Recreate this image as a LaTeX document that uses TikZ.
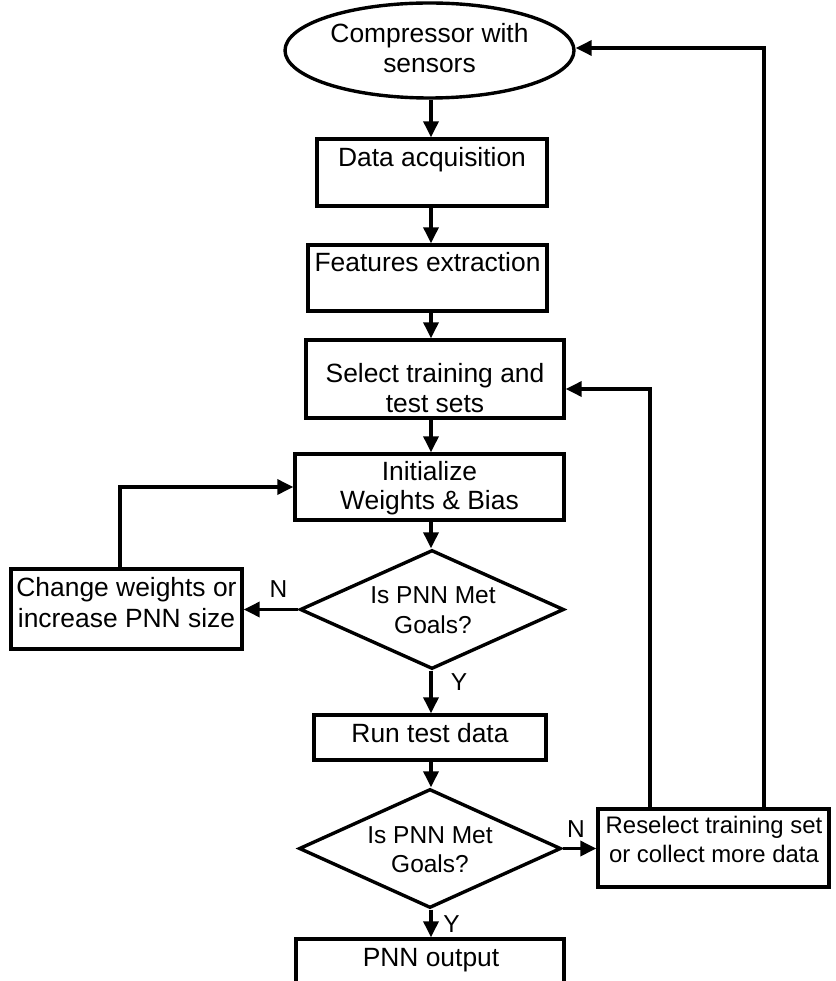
\documentclass[tikz,border=0pt]{standalone}
\usepackage{fontspec}
\setmainfont{Liberation Sans}
\usetikzlibrary{arrows.meta,shapes.geometric}
\begin{document}
\begin{tikzpicture}[x=1pt,y=-1pt,
  shp/.style={draw, line width=3.4pt, inner sep=0pt},
  txt/.style={inner sep=0pt, anchor=base, font=\fontsize{26.4pt}{30pt}\selectfont},
  txts/.style={txt, font=\fontsize{24.5pt}{30pt}\selectfont},
  txtr/.style={txt, font=\fontsize{23.9pt}{30pt}\selectfont},
  arr/.style={line width=3.4pt, -{Triangle[length=16pt,width=15pt]}},
]
\path[use as bounding box, clip] (0,0) rectangle (835,981);

% shapes
\node[shp, ellipse, minimum width=289pt, minimum height=95pt] (ell) at (429.5,50.5) {};
\node[shp, rectangle, minimum width=230pt, minimum height=67pt] (da) at (432,172.5) {};
\node[shp, rectangle, minimum width=239pt, minimum height=66pt] (fe) at (427.5,278) {};
\node[shp, rectangle, minimum width=258pt, minimum height=78pt] (sel) at (435,379) {};
\node[shp, rectangle, minimum width=269pt, minimum height=66pt] (in) at (429.5,487) {};
\node[shp, rectangle, minimum width=231pt, minimum height=80pt] (chg) at (126.5,609) {};
\node[shp, diamond, minimum width=264pt, minimum height=119pt] (d1) at (432,609.5) {};
\node[shp, rectangle, minimum width=232pt, minimum height=45pt] (run) at (430,737.5) {};
\node[shp, diamond, minimum width=262pt, minimum height=119pt] (d2) at (430,848.5) {};
\node[shp, rectangle, minimum width=231pt, minimum height=78pt] (rs) at (713.5,848) {};
\node[shp, rectangle, minimum width=268pt, minimum height=60pt] (pnn) at (430,969) {};

% texts
\node[txt] (tell1) at (429.5,43) {Compressor with};
\node[txt] (tell2) at (429.5,73) {sensors};
\node[txt] (tda) at (432,167) {Data acquisition};
\node[txt] (tfe) at (427.5,272) {Features extraction};
\node[txt] (tsel1) at (435,382) {Select training and};
\node[txt] (tsel2) at (435,412) {test sets};
\node[txt] (tin1) at (429.5,480) {Initialize};
\node[txt] (tin2) at (429.5,509) {Weights \& Bias};
\node[txt] (tch1) at (126.5,596) {Change weights or};
\node[txt] (tch2) at (126.5,627) {increase PNN size};
\node[txts] (td11) at (433,603) {Is PNN Met};
\node[txts] (td12) at (433,633) {Goals?};
\node[txt] (trun) at (430,742) {Run test data};
\node[txts] (td21) at (430,843) {Is PNN Met};
\node[txts] (td22) at (430,872) {Goals?};
\node[txtr] (trs1) at (714,833) {Reselect training set};
\node[txtr] (trs2) at (714,862) {or collect more data};
\node[txt] (tpnn) at (431,966) {PNN output};

% branch labels
\node[txts] (n1) at (278.5,597) {N};
\node[txts] (y1) at (459,690) {Y};
\node[txts] (n2) at (576,837) {N};
\node[txts] (y2) at (451.5,932) {Y};

% helper coordinates
\coordinate (col) at (431,0);
\coordinate (lp) at (120,0);
\coordinate (r1) at (650,389);
\coordinate (r2) at (764,48);

% connectors
\draw[arr] (col |- ell.south) -- (col |- da.north);
\draw[arr] (col |- da.south) -- (col |- fe.north);
\draw[arr] (col |- fe.south) -- (col |- sel.north);
\draw[arr] (col |- sel.south) -- (col |- in.north);
\draw[arr] (col |- in.south) -- (col |- d1.north);
\draw[arr] (col |- d1.south) -- (col |- run.north);
\draw[arr] (col |- run.south) -- (col |- d2.north);
\draw[arr] (col |- d2.south) -- (col |- pnn.north);
\draw[arr] (d1.west) -- (d1.west -| chg.east);
\draw[arr] (lp |- chg.north) |- (in.west);
\draw[arr] (d2.east) -- (d2.east -| rs.west);
\draw[arr] (r1 |- rs.north) -- (r1) -- (r1 -| sel.east);
\draw[arr] (r2 |- rs.north) -- (r2) -- (r2 -| ell.east);
\end{tikzpicture}
\end{document}
